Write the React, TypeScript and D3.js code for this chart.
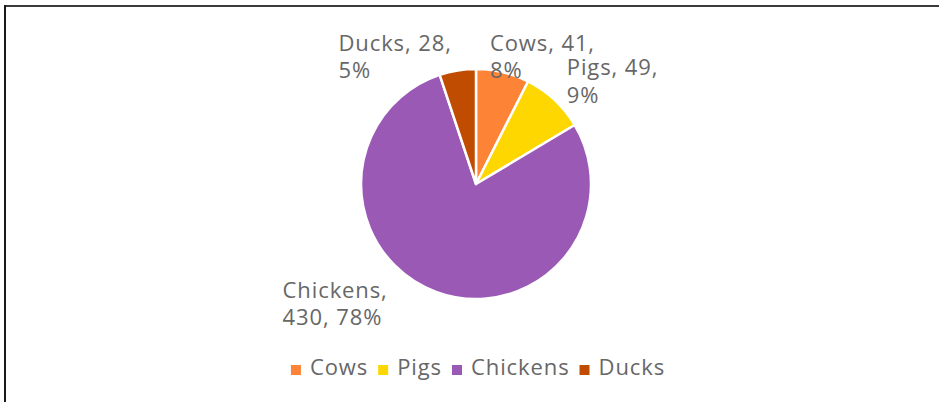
import React, { useEffect, useRef } from "react";
import * as d3 from "d3";

const categories = ["Cows", "Pigs", "Chickens", "Ducks"];
const values = [41, 49, 430, 28];
const colors = ["#fd8436", "#fed700", "#9b59b6", "#c04c02"];

const W = 939;
const H = 402;

// percentages rounded so they total 100 (largest remainder)
function roundedPercents(vals: number[]): number[] {
  const total = d3.sum(vals);
  const raw = vals.map((v) => (v / total) * 100);
  const floors = raw.map((r) => Math.floor(r));
  let rest = 100 - d3.sum(floors);
  const order = raw.map((r, i) => ({ i, rem: r - Math.floor(r) })).sort((a, b) => b.rem - a.rem);
  for (const o of order) {
    if (rest <= 0) break;
    floors[o.i] += 1;
    rest--;
  }
  return floors;
}

export default function App() {
  const ref = useRef<SVGSVGElement | null>(null);

  useEffect(() => {
    const svg = d3.select(ref.current);
    svg.selectAll("*").remove();

    const font = "'Open Sans', sans-serif";
    const textColor = "#676767";
    const fs = 22;
    const ls = "0.9px";

    svg.append("rect").attr("width", W).attr("height", H).attr("fill", "#fff");
    // frame (top + left)
    svg.append("line").attr("x1", 4).attr("x2", W).attr("y1", 6).attr("y2", 6)
      .attr("stroke", "#3a3a3a").attr("stroke-width", 2);
    svg.append("line").attr("x1", 5).attr("x2", 5).attr("y1", 5).attr("y2", H)
      .attr("stroke", "#1a1a1a").attr("stroke-width", 2);

    const cx = 476, cy = 184, R = 115;
    const pcts = roundedPercents(values);
    const data = categories.map((c, i) => ({ name: c, value: values[i], color: colors[i], pct: pcts[i] }));
    const pie = d3.pie<any>().value((d) => d.value).sort(null);
    const arcs = pie(data);
    const arc = d3.arc<any>().innerRadius(0).outerRadius(R);

    const g = svg.append("g").attr("transform", `translate(${cx},${cy})`);
    g.selectAll("path").data(arcs).enter().append("path")
      .attr("d", arc as any)
      .attr("fill", (d: any) => d.data.color)
      .attr("stroke", "#fff")
      .attr("stroke-width", 2.5)
      .attr("stroke-linejoin", "round");

    // labels (nudges in category order: Cows, Pigs, Chickens, Ducks)
    const labelR = R + 18;
    const nudges: [number, number][] = [[-17, 0], [0, -8], [-42, -7], [-3, 2]];
    const lineH = 27.5;
    arcs.forEach((a: any, i: number) => {
      const mid = (a.startAngle + a.endAngle) / 2;
      const px = cx + labelR * Math.sin(mid) + nudges[i][0];
      const py = cy - labelR * Math.cos(mid) + nudges[i][1];
      const lines =
        a.data.name === "Chickens"
          ? [`${a.data.name},`, `${a.data.value}, ${a.data.pct}%`]
          : [`${a.data.name}, ${a.data.value},`, `${a.data.pct}%`];
      const t = svg.append("text")
        .attr("font-family", font).attr("font-size", fs)
        .attr("letter-spacing", ls).attr("fill", textColor);
      const firstBaseline = py - lineH / 2 + 10;
      lines.forEach((l, k) =>
        t.append("tspan").attr("x", 0).attr("y", firstBaseline + k * lineH).text(l)
      );
      const bw = (t.node() as SVGGraphicsElement).getBBox().width;
      const right = Math.sin(mid) >= 0;
      const left = right ? px : px - bw;
      t.attr("transform", `translate(${left},0)`);
    });

    // legend
    const lg = svg.append("g");
    const baseline = 375;
    const sq = 10;
    const gapIn = 9;
    const gapOut = 10;
    let x = 0;
    data.forEach((d) => {
      const item = lg.append("g");
      item.append("rect").attr("x", x).attr("y", baseline - sq)
        .attr("width", sq).attr("height", sq).attr("fill", d.color);
      const t = item.append("text").attr("x", x + sq + gapIn).attr("y", baseline)
        .attr("font-family", font).attr("font-size", fs)
        .attr("letter-spacing", ls).attr("fill", textColor).text(d.name);
      const w = (t.node() as SVGGraphicsElement).getBBox().width;
      x += sq + gapIn + w + gapOut;
    });
    const totalW = x - gapOut;
    lg.attr("transform", `translate(${478 - totalW / 2},0)`);
  }, []);

  return (
    <svg
      ref={ref}
      width={W}
      height={H}
      style={{ position: "absolute", left: 0, top: 0, display: "block" }}
    />
  );
}
